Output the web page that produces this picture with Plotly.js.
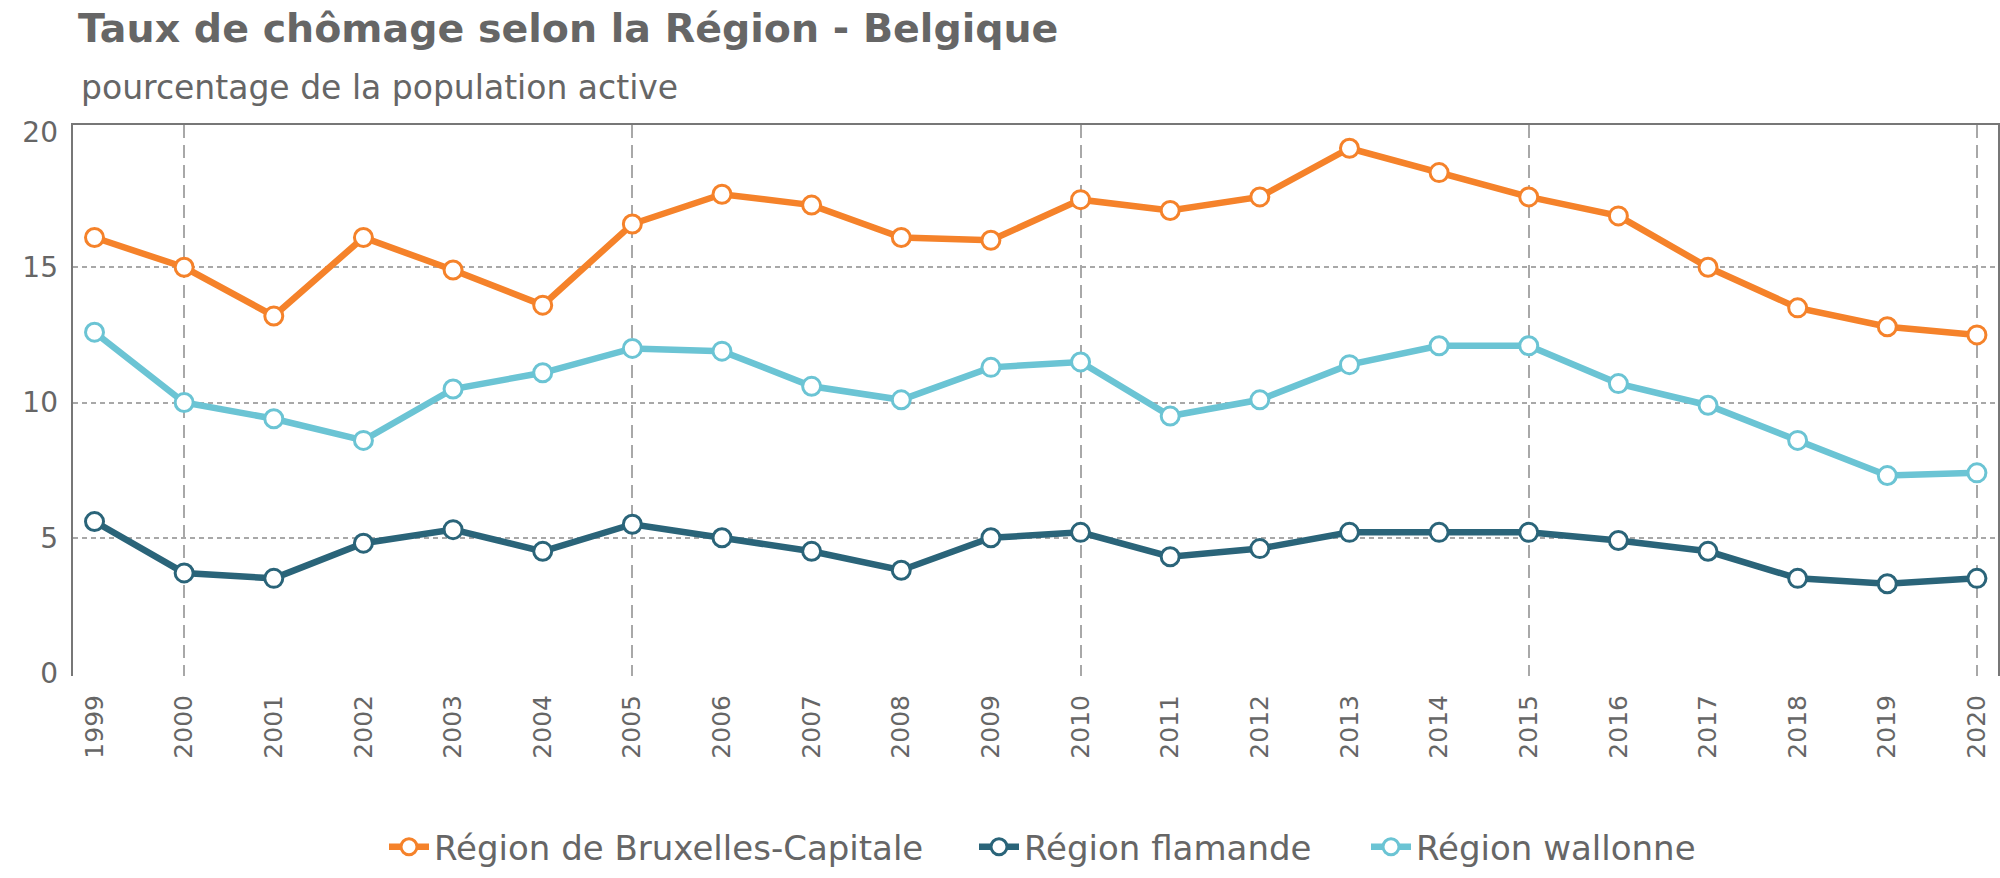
<!DOCTYPE html>
<html>
<head>
<meta charset="utf-8">
<script src="https://cdn.plot.ly/plotly-3.0.1.min.js"></script>
<style>html,body{margin:0;padding:0;background:#fff;}#chart{width:2000px;height:878px;}</style>
</head>
<body>
<div id="chart"></div>
<script>
const years = [1999,2000,2001,2002,2003,2004,2005,2006,2007,2008,2009,2010,2011,2012,2013,2014,2015,2016,2017,2018,2019,2020];
const bruxelles = [16.1,15.0,13.2,16.1,14.9,13.6,16.6,17.7,17.3,16.1,16.0,17.5,17.1,17.6,19.4,18.5,17.6,16.9,15.0,13.5,12.8,12.5];
const flandre   = [5.6,3.7,3.5,4.8,5.3,4.5,5.5,5.0,4.5,3.8,5.0,5.2,4.3,4.6,5.2,5.2,5.2,4.9,4.5,3.5,3.3,3.5];
const wallonie  = [12.6,10.0,9.4,8.6,10.5,11.1,12.0,11.9,10.6,10.1,11.3,11.5,9.5,10.1,11.4,12.1,12.1,10.7,9.9,8.6,7.3,7.4];
const seriesNames = ["Région de Bruxelles-Capitale","Région flamande","Région wallonne"];
const seriesColors = ["#F5822A","#2A6479","#6BC4D4"];
const yTicks = [0,5,10,15,20];
const yGridVals = [5,10,15];
const titleText = "Taux de chômage selon la Région - Belgique";
const subtitleText = "pourcentage de la population active";

const xRange = [1998.76, 2020.235];
const yRange = [-0.11, 20.26];
const font = "DejaVu Sans, Verdana, sans-serif";

const plotL = 73, plotW = 1925, plotB = 682, plotH = 557;
const legendIds = ['legend', 'legend2', 'legend3'];
const legendTextX = [434, 1024, 1416];
const legendItemW = 40;

const dataSets = [bruxelles, flandre, wallonie];
const traces = [{
  x: years, y: years.map(() => null), xaxis: 'x', yaxis: 'y',
  mode: 'lines', showlegend: false, hoverinfo: 'skip'
}];
dataSets.forEach((vals, i) => {
  traces.push({
    x: years, y: vals, xaxis: 'x2', yaxis: 'y2',
    name: seriesNames[i], mode: 'lines+markers', legend: legendIds[i],
    line: {color: seriesColors[i], width: 6.5},
    marker: {symbol: 'circle', size: 18, color: '#ffffff', line: {color: seriesColors[i], width: 3}}
  });
});

const layout = {
  width: 2000, height: 878,
  margin: {l: plotL, r: 2, t: 125, b: 196},
  paper_bgcolor: '#fff', plot_bgcolor: '#fff',
  font: {family: font, color: '#666666', size: 28},
  title: {
    text: titleText,
    font: {family: font, size: 39.5, color: '#666666', weight: 'bold'},
    x: 78/2000, xanchor: 'left', xref: 'container',
    y: 1 - 28/878, yanchor: 'middle', yref: 'container'
  },
  annotations: [{
    text: subtitleText, xref: 'paper', yref: 'paper',
    x: (79-plotL)/plotW, y: (plotB-87)/plotH, xanchor: 'left', yanchor: 'middle',
    showarrow: false, font: {family: font, size: 33, color: '#666666'}
  }],
  xaxis: {
    range: xRange, side: 'top', tick0: 2000, dtick: 5,
    showgrid: true, gridcolor: '#a8a8a8', gridwidth: 2, griddash: '13px,7px',
    showticklabels: false, ticks: '', zeroline: false,
    showline: true, linecolor: '#777777', linewidth: 2, fixedrange: true
  },
  yaxis: {
    range: yRange, tickvals: yGridVals,
    showgrid: true, gridcolor: '#a8a8a8', gridwidth: 2, griddash: '5px,4px',
    showticklabels: false, ticks: '', zeroline: false,
    showline: true, mirror: true, linecolor: '#777777', linewidth: 2, fixedrange: true
  },
  xaxis2: {
    range: xRange, overlaying: 'x', anchor: 'y2', side: 'bottom',
    tickvals: years, ticktext: years.map(String), tickangle: -90,
    tickfont: {size: 25, color: '#666666'},
    showgrid: false, zeroline: false, showline: false, ticks: '', ticklabelstandoff: 13, fixedrange: true
  },
  yaxis2: {
    range: yRange, overlaying: 'y', anchor: 'x2', side: 'left',
    tickvals: yTicks, tickfont: {size: 28, color: '#666666'},
    showgrid: false, zeroline: false, showline: false, ticks: '', ticklabelstandoff: 14, fixedrange: true
  },
  showlegend: true
};
legendIds.forEach((id, i) => {
  layout[id] = {
    orientation: 'h', x: (legendTextX[i] - legendItemW - 10 - plotL)/plotW, xanchor: 'left',
    y: (plotB-855)/plotH, yanchor: 'middle', bgcolor: 'rgba(0,0,0,0)', itemwidth: legendItemW,
    font: {family: font, size: 34, color: '#666666'}
  };
});

Plotly.newPlot('chart', traces, layout, {displayModeBar: false, staticPlot: true});
</script>
</body>
</html>
